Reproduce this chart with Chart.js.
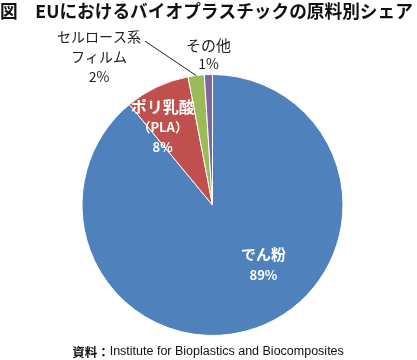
<!DOCTYPE html>
<html><head><meta charset="utf-8">
<script src="https://cdn.jsdelivr.net/npm/chart.js@4.4.1/dist/chart.umd.min.js"></script>
<style>html,body{margin:0;padding:0;background:#fff}#wrap{width:417px;height:360px;position:relative}</style>
</head><body>
<div id="wrap"><canvas id="c"></canvas></div>
<script>
const titleText = '図　EUにおけるバイオプラスチックの原料別シェア';
const sourcePrefix = '資料：';
const sourceText = 'Institute for Bioplastics and Biocomposites';
const categories = ['でん粉', 'ポリ乳酸（PLA）', 'セルロース系フィルム', 'その他'];
const shares = [89, 8, 2, 1];
const labelNames = [['でん粉'], ['ポリ乳酸', '（PLA）'], ['セルロース系', 'フィルム'], ['その他']];
const colors = ['#4F81BD', '#C0504D', '#9BBB59', '#8064A2'];

// label placement (offset of label block centre as a fraction of the radius)
const labelStyle = [
  {dx: 0.39, dy: 0.458, inside: true, lh: 20, sizes: [15, 13]},
  {dx: -0.382, dy: -0.595, inside: true, lh: 20, sizes: [16, 13, 13]},
  {dx: -0.87, dy: -1.133, inside: false, lh: 20, sizes: [14, 14, 14], leader: true},
  {dx: -0.03, dy: -1.153, inside: false, lh: 19, sizes: [15, 14]}
];
const JP = '"Noto Sans CJK JP", "Noto Sans", sans-serif';

const labelPlugin = {
  id: 'labels',
  afterDraw(chart) {
    const ctx = chart.ctx;
    const meta = chart.getDatasetMeta(0);
    ctx.save();
    // title
    ctx.fillStyle = '#111';
    ctx.textBaseline = 'middle';
    ctx.textAlign = 'left';
    ctx.font = 'bold 18px ' + JP;
    let w = ctx.measureText(titleText).width;
    const size = 18 * 413 / w;
    ctx.font = 'bold ' + size.toFixed(2) + 'px ' + JP;
    ctx.fillText(titleText, 0, 11);
    // source
    ctx.font = 'bold 12.5px ' + JP;
    const pw = ctx.measureText(sourcePrefix).width;
    ctx.font = '12.5px "Liberation Sans", Arial, sans-serif';
    const sw = ctx.measureText(sourceText).width;
    const sx = 208 - (pw + sw) / 2;
    ctx.font = 'bold 12.5px ' + JP;
    ctx.fillText(sourcePrefix, sx, 352);
    ctx.font = '12.5px "Liberation Sans", Arial, sans-serif';
    ctx.fillText(sourceText, sx + pw, 352);

    ctx.textAlign = 'center';
    meta.data.forEach((arc, i) => {
      const p = arc.getProps(['x', 'y', 'outerRadius', 'startAngle', 'endAngle'], true);
      const st = labelStyle[i];
      const lines = labelNames[i].concat([shares[i] + '%']);
      const cx = p.x + st.dx * p.outerRadius;
      const cy = p.y + st.dy * p.outerRadius;
      const y0 = cy - (lines.length - 1) * st.lh / 2;
      ctx.fillStyle = st.inside ? '#fff' : '#222';
      lines.forEach((t, k) => {
        ctx.font = (st.inside ? 'bold ' : '') + st.sizes[k] + 'px ' + JP;
        ctx.fillText(t, cx, y0 + k * st.lh);
      });
      if (st.leader) {
        const mid = (p.startAngle + p.endAngle) / 2;
        ctx.font = st.sizes[0] + 'px ' + JP;
        const tw = ctx.measureText(lines[0]).width;
        ctx.strokeStyle = '#222';
        ctx.lineWidth = 1;
        ctx.beginPath();
        ctx.moveTo(cx + tw / 2 + 4, y0 + 4);
        ctx.lineTo(p.x + Math.cos(mid) * p.outerRadius, p.y + Math.sin(mid) * p.outerRadius);
        ctx.stroke();
      }
    });
    ctx.restore();
  }
};

new Chart(document.getElementById('c'), {
  type: 'pie',
  data: {
    labels: categories,
    datasets: [{
      data: shares,
      backgroundColor: colors,
      borderColor: '#fff',
      borderWidth: 1
    }]
  },
  options: {
    responsive: true,
    maintainAspectRatio: false,
    animation: false,
    layout: {padding: {top: 74, bottom: 24, left: 8, right: 0}},
    plugins: {legend: {display: false}, tooltip: {enabled: false}, title: {display: false}}
  },
  plugins: [labelPlugin]
});
</script>
</body></html>
